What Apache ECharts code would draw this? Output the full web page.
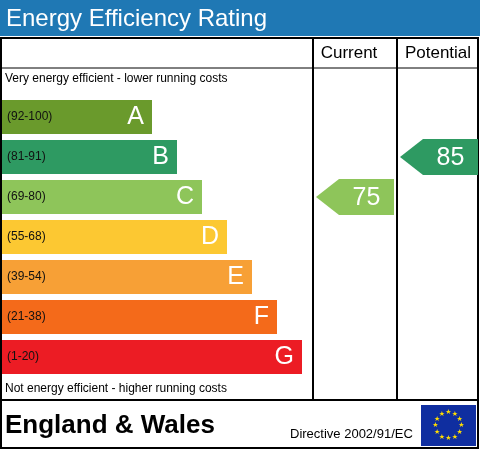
<!DOCTYPE html>
<html><head><meta charset="utf-8">
<script src="https://cdn.jsdelivr.net/npm/echarts@6/dist/echarts.min.js"></script>
<style>html,body{margin:0;padding:0;background:#fff}#c{width:480px;height:450px}</style>
</head><body><div id="c"></div>
<script>
const letters = ['A','B','C','D','E','F','G'];
const ranges = ['(92-100)','(81-91)','(69-80)','(55-68)','(39-54)','(21-38)','(1-20)'];
const lows = [92,81,69,55,39,21,1];
const barLengths = [6,7,8,9,10,11,12];
const colors = ['#6a9a2c','#2e9a62','#8ec55a','#fcc832','#f7a036','#f46a1a','#ec1c24'];
const currentRating = 75;
const potentialRating = 85;

function bandIndex(v){ for(let i=0;i<lows.length;i++){ if(v>=lows[i]) return i; } return 6; }
const F = 'Liberation Sans, Arial, sans-serif';

function arrowSeries(idx, value){
  const i = bandIndex(value);
  return {
    type:'custom', xAxisIndex:idx, yAxisIndex:idx,
    data:[[0, letters[i], value]],
    renderItem:function(params, api){
      const p0 = api.coord([0, api.value(1)]);
      const p1 = api.coord([1, api.value(1)]);
      const cy = p0[1], h = 18, x0 = p0[0], x1 = p1[0];
      return {type:'group', children:[
        {type:'polygon', shape:{points:[[x0,cy],[x0+23,cy-h],[x1,cy-h],[x1,cy+h],[x0+23,cy+h]]}, style:{fill:colors[i]}},
        {type:'text', style:{text:String(api.value(2)), x:(x0+23+x1)/2, y:cy+1, align:'center', verticalAlign:'middle', fill:'#fff', font:'25px '+F}}
      ]};
    }
  };
}

const stars = [];
for(let k=0;k<12;k++){
  const a = k*Math.PI/6;
  stars.push({type:'text', style:{text:'★', x:448.5+13*Math.sin(a), y:425.5-13*Math.cos(a), align:'center', verticalAlign:'middle', fill:'#ffdd00', font:'7px DejaVu Sans'}});
}

const chart = echarts.init(document.getElementById('c'));
chart.setOption({
  animation:false,
  grid:[
    {left:2, top:97, width:312, height:280},
    {left:316, top:97, width:78, height:280},
    {left:400, top:97, width:78, height:280}
  ],
  xAxis:[
    {type:'value', gridIndex:0, min:0, max:12.48, show:false},
    {type:'value', gridIndex:1, min:0, max:1, show:false},
    {type:'value', gridIndex:2, min:0, max:1, show:false}
  ],
  yAxis:[0,1,2].map(g=>({type:'category', gridIndex:g, data:letters, inverse:true, show:false})),
  series:[
    {type:'bar', xAxisIndex:0, yAxisIndex:0, barWidth:34,
     data:barLengths.map((v,i)=>({value:v, itemStyle:{color:colors[i]}})),
     label:{show:true, position:'insideRight', distance:8, formatter:p=>letters[p.dataIndex], color:'#fff', fontSize:25, fontFamily:F}},
    {type:'bar', xAxisIndex:0, yAxisIndex:0, barWidth:34, barGap:'-100%',
     data:barLengths.map(v=>({value:v, itemStyle:{color:'rgba(0,0,0,0)'}})),
     label:{show:true, position:'insideLeft', distance:5, formatter:p=>ranges[p.dataIndex], color:'#111', fontSize:12, fontFamily:F}},
    arrowSeries(1, currentRating),
    arrowSeries(2, potentialRating)
  ],
  graphic:[
    {type:'rect', shape:{x:0,y:0,width:480,height:36}, style:{fill:'#1f78b4'}},
    {type:'text', style:{text:'Energy Efficiency Rating', x:6, y:19, verticalAlign:'middle', fill:'#fff', font:'24px '+F}},
    {type:'rect', shape:{x:1,y:38,width:477,height:410}, style:{fill:'none', stroke:'#000', lineWidth:2}},
    {type:'line', shape:{x1:1,y1:68,x2:478,y2:68}, style:{stroke:'#000', lineWidth:1}},
    {type:'line', shape:{x1:313,y1:38,x2:313,y2:400}, style:{stroke:'#000', lineWidth:2}},
    {type:'line', shape:{x1:397,y1:38,x2:397,y2:400}, style:{stroke:'#000', lineWidth:2}},
    {type:'line', shape:{x1:1,y1:400,x2:478,y2:400}, style:{stroke:'#000', lineWidth:2}},
    {type:'text', style:{text:'Current', x:349, y:53, align:'center', verticalAlign:'middle', fill:'#000', font:'17px '+F}},
    {type:'text', style:{text:'Potential', x:438, y:53, align:'center', verticalAlign:'middle', fill:'#000', font:'17px '+F}},
    {type:'text', style:{text:'Very energy efficient - lower running costs', x:5, y:79, verticalAlign:'middle', fill:'#000', font:'12px '+F}},
    {type:'text', style:{text:'Not energy efficient - higher running costs', x:5, y:389, verticalAlign:'middle', fill:'#000', font:'12px '+F}},
    {type:'text', style:{text:'England & Wales', x:5, y:426, verticalAlign:'middle', fill:'#000', font:'bold 26px '+F}},
    {type:'text', style:{text:'Directive 2002/91/EC', x:290, y:434, verticalAlign:'middle', fill:'#000', font:'13px '+F}},
    {type:'rect', shape:{x:421,y:405,width:55,height:41}, style:{fill:'#0f2ea0'}}
  ].concat(stars)
});
</script></body></html>
